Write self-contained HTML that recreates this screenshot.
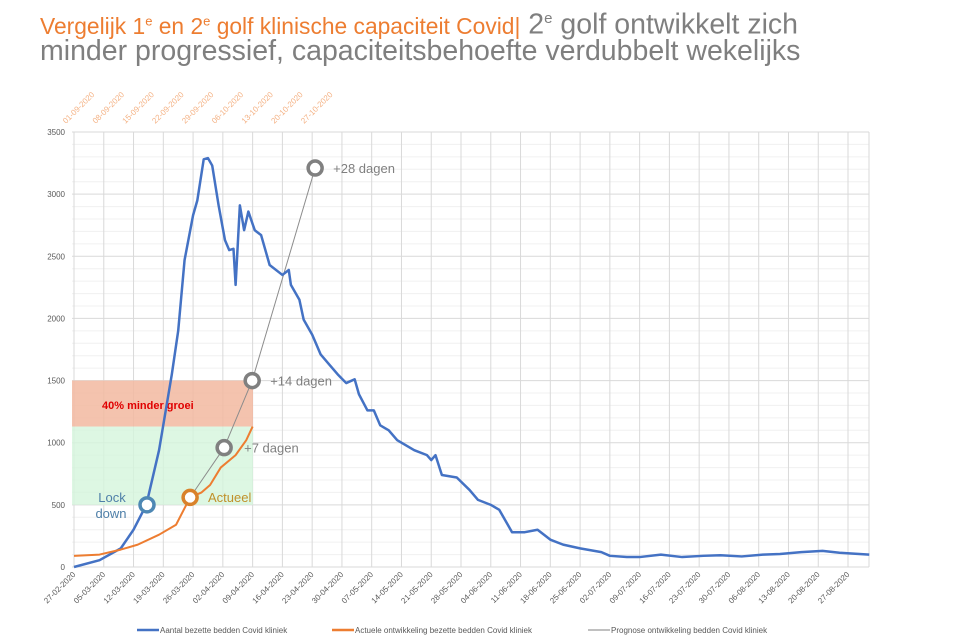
<!DOCTYPE html>
<html><head><meta charset="utf-8"><style>
body{margin:0;background:#fff;width:954px;height:644px;overflow:hidden;font-family:"Liberation Sans",sans-serif}
.t{position:absolute;left:40px;line-height:30px;color:#7f7f7f;white-space:nowrap;font-size:28.5px}
.o{color:#ed7d31;font-size:22.8px}
</style></head><body>
<div class="t" style="top:4px"><span class="o">Vergelijk 1<sup style="font-size:13px">e</sup> en 2<sup style="font-size:13px">e</sup> golf klinische capaciteit Covid|</span> 2<sup style="font-size:15px">e</sup> golf ontwikkelt zich</div>
<div class="t" style="top:36px">minder progressief, capaciteitsbehoefte verdubbelt wekelijks</div>
<svg id="c" width="954" height="644" style="position:absolute;left:0;top:0"></svg>
<script>
const bottomLabels=["27-02-2020","05-03-2020","12-03-2020","19-03-2020","26-03-2020","02-04-2020","09-04-2020","16-04-2020","23-04-2020","30-04-2020","07-05-2020","14-05-2020","21-05-2020","28-05-2020","04-06-2020","11-06-2020","18-06-2020","25-06-2020","02-07-2020","09-07-2020","16-07-2020","23-07-2020","30-07-2020","06-08-2020","13-08-2020","20-08-2020","27-08-2020"];
const topLabels=["01-09-2020","08-09-2020","15-09-2020","22-09-2020","29-09-2020","06-10-2020","13-10-2020","20-10-2020","27-10-2020"];
const yTicks=[0,500,1000,1500,2000,2500,3000,3500];
const blueDays=[0,6,11,14,17,20,23,24.5,26,28,29,30.5,31.5,32.5,34,35.5,36.5,37.5,38,39,40,41,42.5,44,46,49,50.5,51,53,54,56,57,58,60,62,64,66,67,69,70.5,72,74,76,78,80,83,84,85,86.5,90,93,95,98,100,102,103,106,109,112,115,119,124,126,130,133,138,143,148,152,157,162,166,171,176,180,187];
const blueVals=[0,55,150,300,500,940,1550,1900,2470,2830,2950,3280,3290,3230,2910,2630,2550,2560,2270,2910,2710,2860,2710,2670,2430,2350,2390,2270,2150,1990,1870,1790,1710,1630,1550,1480,1510,1390,1260,1260,1140,1100,1020,980,940,900,860,900,740,720,620,540,500,460,340,280,280,300,220,180,150,120,90,80,80,100,80,90,95,85,100,105,120,130,115,100];
const orangeDays=[0,6,11,15,20,24,27.3,30,32,34.5,38,40.5,42];
const orangeVals=[90,100,140,180,260,340,560,600,660,800,900,1020,1130];
const progDays=[27.3,35.3,41.9,56.7];
const progVals=[560,960,1500,3210];
const progLabels=["","+7 dagen","+14 dagen","+28 dagen"];
const X0=74,DX=29.77/7,Y0=567,YS=435/3500;
const x=d=>X0+d*DX, y=v=>Y0-v*YS;
const svg=document.getElementById('c');
const NS='http://www.w3.org/2000/svg';
function el(tag,attrs,parent){const e=document.createElementNS(NS,tag);for(const k in attrs)e.setAttribute(k,attrs[k]);(parent||svg).appendChild(e);return e;}
for(let v=100;v<=3500;v+=100){if(v%500){const l=el('line',{x1:72,x2:869,y1:y(v),y2:y(v),stroke:'#f0f0f0','stroke-width':1});

}}
yTicks.forEach(v=>{const l=el('line',{x1:72,x2:869,y1:y(v),y2:y(v),stroke:'#d9d9d9','stroke-width':1});


const t=el('text',{x:65,y:y(v)+3,'text-anchor':'end','font-size':8,fill:'#595959'});t.textContent=v;

});
bottomLabels.forEach((s,i)=>{const xx=x(i*7);const l=el('line',{x1:xx,x2:xx,y1:y(3500),y2:y(0),stroke:'#d9d9d9'});


const t=el('text',{x:xx+2,y:575,'text-anchor':'end','font-size':8,fill:'#595959',transform:`rotate(-45 ${xx+2} 575)`});t.textContent=s;

});
el('line',{x1:869,x2:869,y1:y(3500),y2:y(0),stroke:'#d9d9d9'});
topLabels.forEach((s,i)=>{const xx=x(i*7)-8;const t=el('text',{x:xx,y:124,'font-size':8,fill:'#f4b183',transform:`rotate(-45 ${xx} 124)`});t.textContent=s;

});
const r1=el('rect',{x:72,y:y(1500),width:181,height:y(1130)-y(1500),fill:'#f2b8a0',opacity:0.85});


const r2=el('rect',{x:72,y:y(1130),width:181,height:y(500)-y(1130),fill:'#d5f5dc',opacity:0.8});


const tl=el('text',{x:102,y:409,'font-size':11,'font-weight':'bold',fill:'#e00000'});tl.textContent='40% minder groei';


function line(ds,vs,col,w,name){const p=el('polyline',{points:ds.map((d,i)=>x(d)+','+y(vs[i])).join(' '),fill:'none',stroke:col,'stroke-width':w,'stroke-linejoin':'round'});

}
line(progDays,progVals,'#8c8c8c',1,'prognosis-line');
line(blueDays,blueVals,'#4472c4',2.5,'blue-line');
line(orangeDays,orangeVals,'#ed7d31',2,'orange-line');
progDays.forEach((d,i)=>{if(i>0){const c=el('circle',{cx:x(d),cy:y(progVals[i]),r:7,fill:'#fff',stroke:'#808080','stroke-width':3.5});


const t=el('text',{x:x(d)+(i==1?20:18),y:y(progVals[i])+5,'font-size':13,fill:'#7f7f7f'});t.textContent=progLabels[i];

}});
const c1=el('circle',{cx:147,cy:y(500),r:7,fill:'#fff',stroke:'#4e88b4','stroke-width':3.5});


const c2=el('circle',{cx:x(27.3),cy:y(560),r:7,fill:'#fff',stroke:'#d9822b','stroke-width':3.5});


[['Lock',112,502],['down',111,518]].forEach(a=>{const t=el('text',{x:a[1],y:a[2],'font-size':13,fill:'#4e7fa8','text-anchor':'middle'});t.textContent=a[0];

});
const ta=el('text',{x:208,y:502,'font-size':13,fill:'#c0902a'});ta.textContent='Actueel';


[[137,'#4472c4',2.5,'Aantal bezette bedden Covid kliniek'],[332,'#ed7d31',2.5,'Actuele ontwikkeling bezette bedden Covid kliniek'],[588,'#808080',1,'Prognose ontwikkeling bedden Covid kliniek']].forEach(a=>{
const g=el('g',{});


el('line',{x1:a[0],x2:a[0]+22,y1:630,y2:630,stroke:a[1],'stroke-width':a[2]},g);
const t=el('text',{x:a[0]+23,y:633,'font-size':8,fill:'#595959'},g);t.textContent=a[3];});
</script>
</body></html>
